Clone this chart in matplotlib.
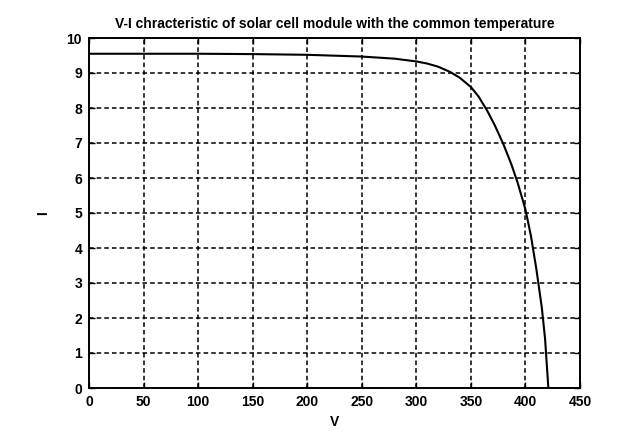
import numpy as np
import matplotlib
matplotlib.use("Agg")
import matplotlib.pyplot as plt

# V-I curve of the PV module
volts = [0, 50, 100, 150, 200, 250, 280, 300, 310, 320, 331, 340, 350,
         357, 365, 372, 380, 387, 393, 400, 405, 410, 415, 418, 421]
amps = [9.55, 9.55, 9.55, 9.54, 9.52, 9.47, 9.41, 9.33, 9.27, 9.18, 9.03,
        8.86, 8.6, 8.33, 7.92, 7.5, 6.95, 6.4, 5.85, 5.1, 4.35, 3.4, 2.3,
        1.4, 0]
x_ticks = list(range(0, 451, 50))
y_ticks = list(range(0, 11))

plt.rcParams['font.family'] = ['Liberation Sans', 'DejaVu Sans']

fig = plt.figure(figsize=(6.36, 4.32), dpi=100)
ax = fig.add_axes([89 / 636, 1 - 388 / 432, (580 - 89) / 636, 350 / 432])

ax.plot(volts, amps, color='black', lw=1.5)

ax.set_xlim(0, 450)
ax.set_ylim(0, 10)
ax.set_xticks(x_ticks)
ax.set_yticks(y_ticks)
ax.tick_params(direction='in', length=4, width=1, labelsize=10, pad=5,
               top=True, right=True)
for lab in ax.get_xticklabels() + ax.get_yticklabels():
    lab.set_fontweight('bold')
ax.grid(True, color='black', linestyle=(0, (3, 2)), linewidth=1.1)
for s in ax.spines.values():
    s.set_linewidth(1.4)

ax.set_title('V-I chracteristic of solar cell module with the common temperature',
             fontsize=10, fontweight='bold', pad=7)
ax.set_xlabel('V', fontsize=10, fontweight='bold', labelpad=4)
ax.set_ylabel('I', fontsize=10, fontweight='bold', labelpad=12)

fig.savefig('out.png', dpi=100)
